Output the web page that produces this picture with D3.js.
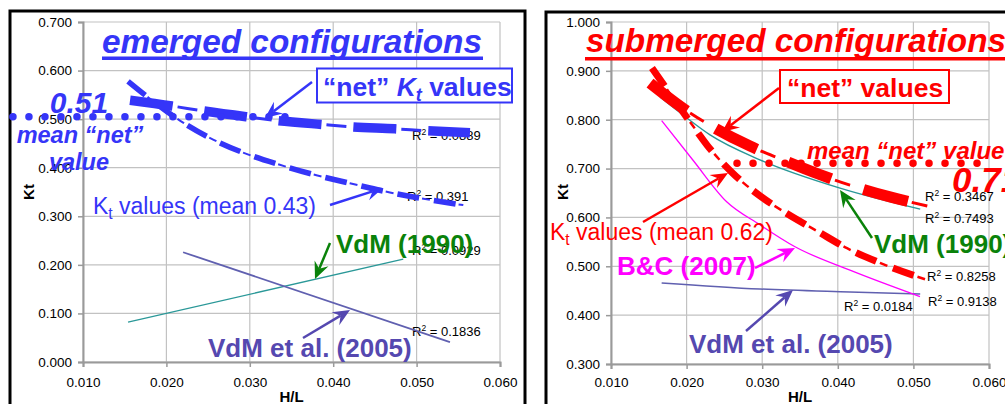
<!DOCTYPE html>
<html><head><meta charset="utf-8">
<script src="https://cdn.jsdelivr.net/npm/d3@7"></script>
<style>
body{margin:0;background:#fff;}
svg{display:block;font-family:"Liberation Sans",Arial,sans-serif;}
</style></head><body>
<svg id="c" width="1005" height="404"></svg>
<script>
// ================= DATA =================
const xTicks = [0.010, 0.020, 0.030, 0.040, 0.050, 0.060];
const yTicksEmerged = [0.000, 0.100, 0.200, 0.300, 0.400, 0.500, 0.600, 0.700];
const yTicksSubmerged = [0.300, 0.400, 0.500, 0.600, 0.700, 0.800, 0.900, 1.000];

// emerged configurations
const emNetX = [0.01564, 0.02067, 0.02439, 0.02954, 0.03338, 0.03866, 0.04225, 0.04741, 0.05125, 0.0564];
const emNetY = [0.539, 0.527, 0.517, 0.505, 0.497, 0.489, 0.484, 0.480, 0.476, 0.472];
const emKtX = [0.0154, 0.0178, 0.0220, 0.0256, 0.0300, 0.0336, 0.0381, 0.0420, 0.0468, 0.0556];
const emKtY = [0.578, 0.545, 0.493, 0.458, 0.426, 0.406, 0.384, 0.368, 0.349, 0.323];
const emVdM1990X = [0.0154, 0.0484];
const emVdM1990Y = [0.082, 0.212];
const emVdM2005X = [0.0220, 0.0540];
const emVdM2005Y = [0.226, 0.041];
const emMeanNet = 0.505;
const emMeanSpanX = [0.0016, 0.0343];
const emR2 = ["0.0889", "0.391", "0.0929", "0.1836"];

// submerged configurations
const subNetX = [0.01516, 0.02005, 0.02349, 0.02839, 0.03235, 0.03738, 0.04161, 0.0469, 0.05193];
const subNetY = [0.875, 0.818, 0.785, 0.746, 0.720, 0.689, 0.666, 0.642, 0.623];
const subKtX = [0.01542, 0.01714, 0.02085, 0.0227, 0.02614, 0.02971, 0.03315, 0.03738, 0.04122, 0.04558, 0.0518];
const subKtY = [0.906, 0.868, 0.787, 0.748, 0.690, 0.644, 0.609, 0.571, 0.537, 0.507, 0.472];
const subVdM1990X = [0.0165, 0.0200, 0.0231, 0.0297, 0.0403, 0.0509];
const subVdM1990Y = [0.846, 0.804, 0.769, 0.718, 0.660, 0.617];
const subBCX = [0.0167, 0.02085, 0.0253, 0.0297, 0.03434, 0.04161, 0.05087];
const subBCY = [0.798, 0.717, 0.632, 0.585, 0.540, 0.492, 0.438];
const subVdM2005X = [0.0167, 0.0297, 0.0416, 0.0509];
const subVdM2005Y = [0.466, 0.4535, 0.4474, 0.4433];
const subMeanNet = 0.711;
const subMeanSpanX = [0.02667, 0.0605];
const subR2 = ["0.3467", "0.7493", "0.8258", "0.9138", "0.0184"];

// ================= DRAW =================
const svg = d3.select("#c");
const BLUE = "#3535f8", RED = "#ff0000", GREEN = "#0a820a", PURPLE = "#5548b0",
      TEAL = "#2a9898", LPURPLE = "#6060b0", MAGENTA = "#ff00ff";
const zip = (xs, ys) => xs.map((x, i) => [x, ys[i]]);

function frame(x, y, w, h) {
  svg.append("rect").attr("x", x).attr("y", y).attr("width", w).attr("height", h)
    .attr("fill", "none").attr("stroke", "#000").attr("stroke-width", 3);
}

function panel(g, xs, ys, yTicks, plotLeft, plotRight, xPad) {
  const [x0, x1] = xs.range(), [yb, yt] = ys.range();
  // grid
  g.selectAll(null).data(xTicks).enter().append("line")
    .attr("x1", d => xs(d)).attr("x2", d => xs(d)).attr("y1", yb).attr("y2", yt)
    .attr("stroke", "#c2c2c2").attr("stroke-width", 1.2);
  g.selectAll(null).data(yTicks).enter().append("line")
    .attr("x1", x0).attr("x2", x1).attr("y1", d => ys(d)).attr("y2", d => ys(d))
    .attr("stroke", "#c2c2c2").attr("stroke-width", 1.2);
  // axes
  const ax = g.append("g").attr("transform", `translate(0,${yb})`)
    .call(d3.axisBottom(xs).tickValues(xTicks).tickFormat(d3.format(".3f")).tickSize(5).tickPadding(xPad));
  const ay = g.append("g").attr("transform", `translate(${x0},0)`)
    .call(d3.axisLeft(ys).tickValues(yTicks).tickFormat(d3.format(".3f")).tickSize(5).tickPadding(6));
  [ax, ay].forEach(a => {
    a.select(".domain").attr("stroke", "#9a9a9a").attr("stroke-width", 2);
    a.selectAll(".tick line").attr("stroke", "#9a9a9a").attr("stroke-width", 1.5);
    a.selectAll("text").attr("font-size", 13.5).attr("fill", "#000")
      .attr("font-family", "Liberation Sans, Arial, sans-serif");
  });
  g.append("text").attr("x", (x0 + x1) / 2).attr("y", 402).attr("text-anchor", "middle")
    .attr("font-weight", "bold").attr("font-size", 15).text("H/L");
}

function trend(g, xs, ys, pts, color, wThick, dashThick, wThin, dashThin) {
  const line = d3.line().x(d => xs(d[0])).y(d => ys(d[1])).curve(d3.curveMonotoneX);
  g.append("path").attr("d", line(pts)).attr("fill", "none").attr("stroke", color)
    .attr("stroke-width", wThin).attr("stroke-dasharray", dashThin);
  g.append("path").attr("d", line(pts)).attr("fill", "none").attr("stroke", color)
    .attr("stroke-width", wThick).attr("stroke-dasharray", dashThick);
}
function thin(g, xs, ys, pts, color, w) {
  const line = d3.line().x(d => xs(d[0])).y(d => ys(d[1])).curve(d3.curveMonotoneX);
  g.append("path").attr("d", line(pts)).attr("fill", "none").attr("stroke", color).attr("stroke-width", w);
}
function dots(g, xs, ys, span, v, color) {
  g.append("path").attr("d", d3.line()([[xs(span[0]), ys(v)], [xs(span[1]), ys(v)]]))
    .attr("stroke", color).attr("stroke-width", 7.5).attr("stroke-linecap", "round")
    .attr("stroke-dasharray", "0 16").attr("fill", "none");
}
function r2(g, x, y, val) {
  const t = g.append("text").attr("x", x).attr("y", y).attr("font-size", 13).attr("fill", "#000");
  t.append("tspan").text("R");
  t.append("tspan").attr("font-size", 8.5).attr("dy", -5).text("2");
  t.append("tspan").attr("dy", 5).text(" = " + val);
}
function txt(x, y, s, o) {
  const t = svg.append("text").attr("x", x).attr("y", y).text(s)
    .attr("font-size", o.size).attr("fill", o.color)
    .attr("font-weight", o.bold ? "bold" : "normal")
    .attr("font-style", o.italic ? "italic" : "normal")
    .attr("text-anchor", o.anchor || "start");
  if (o.len) t.attr("textLength", o.len).attr("lengthAdjust", "spacingAndGlyphs");
  return t;
}
function ktText(x, y, rest, color, size) {
  const t = svg.append("text").attr("x", x).attr("y", y).attr("font-size", size).attr("fill", color);
  t.append("tspan").text("K");
  t.append("tspan").attr("font-size", size * 0.68).attr("dy", 5).text("t");
  t.append("tspan").attr("dy", -5).text(rest);
}
function arrow(x1, y1, x2, y2, color, w) {
  const dx = x2 - x1, dy = y2 - y1, L = Math.hypot(dx, dy), ux = dx / L, uy = dy / L;
  const hl = 17, hw = 7.5, notch = 11, px = -uy, py = ux;
  const bx = x2 - ux * hl, by = y2 - uy * hl, nx = x2 - ux * notch, ny = y2 - uy * notch;
  svg.append("line").attr("x1", x1).attr("y1", y1).attr("x2", nx).attr("y2", ny)
    .attr("stroke", color).attr("stroke-width", w);
  svg.append("polygon").attr("points",
    [[x2, y2], [bx + px * hw, by + py * hw], [nx, ny], [bx - px * hw, by - py * hw]].map(p => p.join(",")).join(" "))
    .attr("fill", color);
}

// ---------- LEFT: emerged ----------
frame(10, 11, 515, 430);
const xL = d3.scaleLinear().domain([0.01, 0.06]).range([83, 500]);
const yL = d3.scaleLinear().domain([0, 0.7]).range([362, 22]);
const gL = svg.append("g");
panel(gL, xL, yL, yTicksEmerged, 83, 500, 10);
svg.append("text").attr("transform", "translate(33.5,192) rotate(-90)").attr("text-anchor", "middle")
  .attr("font-weight", "bold").attr("font-size", 15).text("Kt");
r2(gL, 412, 140, emR2[0]);
r2(gL, 407, 201, emR2[1]);
r2(gL, 412, 255, emR2[2]);
r2(gL, 412, 336, emR2[3]);
thin(gL, xL, yL, zip(emVdM1990X, emVdM1990Y), TEAL, 1.3);
thin(gL, xL, yL, zip(emVdM2005X, emVdM2005Y), LPURPLE, 1.8);
trend(gL, xL, yL, zip(emKtX, emKtY), BLUE, 5.5, "22 15", 2, "0 25 8 4");
trend(gL, xL, yL, zip(emNetX, emNetY), BLUE, 9.5, "43 32", 3, "0 48 20 7");
dots(gL, xL, yL, emMeanSpanX, emMeanNet, BLUE);

txt(102, 53, "emerged configurations", {size: 33, color: BLUE, bold: 1, italic: 1, len: 380});
svg.append("rect").attr("x", 102).attr("y", 56.5).attr("width", 381).attr("height", 3.5).attr("fill", BLUE);
svg.append("rect").attr("x", 317).attr("y", 68.5).attr("width", 195).attr("height", 34)
  .attr("fill", "#fff").attr("stroke", BLUE).attr("stroke-width", 2);
{
  const t = svg.append("text").attr("x", 323).attr("y", 96).attr("font-size", 26.5)
    .attr("fill", BLUE).attr("font-weight", "bold");
  t.append("tspan").text("\u201Cnet\u201D ");
  t.append("tspan").attr("font-style", "italic").text("K");
  t.append("tspan").attr("font-style", "italic").attr("font-size", 18).attr("dy", 5).text("t");
  t.append("tspan").attr("dy", -5).text(" values");
}
arrow(312, 82, 265, 118, BLUE, 2.5);
txt(79, 113, "0.51", {size: 30, color: BLUE, bold: 1, italic: 1, anchor: "middle"});
txt(80, 143, "mean \u201Cnet\u201D", {size: 23.5, color: BLUE, bold: 1, italic: 1, anchor: "middle"});
txt(79, 170, "value", {size: 23.5, color: BLUE, bold: 1, italic: 1, anchor: "middle"});
ktText(93, 214, " values (mean 0.43)", BLUE, 23);
arrow(330, 205, 383, 188, BLUE, 2.5);
txt(336, 253, "VdM (1990)", {size: 26, color: GREEN, bold: 1});
arrow(330, 243, 315, 279, GREEN, 2.5);
txt(208, 357, "VdM et al. (2005)", {size: 26, color: PURPLE, bold: 1});
arrow(303, 338, 350, 310, PURPLE, 2.5);

// ---------- RIGHT: submerged ----------
frame(546, 12, 500, 430);
const xR = d3.scaleLinear().domain([0.01, 0.06]).range([611, 989]);
const yR = d3.scaleLinear().domain([0.3, 1.0]).range([364, 22]);
const gR = svg.append("g");
panel(gR, xR, yR, yTicksSubmerged, 611, 989, 8.5);
svg.append("text").attr("transform", "translate(568,192) rotate(-90)").attr("text-anchor", "middle")
  .attr("font-weight", "bold").attr("font-size", 15).text("Kt");
r2(gR, 925, 201, subR2[0]);
r2(gR, 925, 223, subR2[1]);
r2(gR, 927, 281, subR2[2]);
r2(gR, 928, 306, subR2[3]);
r2(gR, 844, 311, subR2[4]);
thin(gR, xR, yR, zip(subVdM2005X, subVdM2005Y), LPURPLE, 1.5);
thin(gR, xR, yR, zip(subBCX, subBCY), MAGENTA, 1.3);
thin(gR, xR, yR, zip(subVdM1990X, subVdM1990Y), TEAL, 1.4);
trend(gR, xR, yR, zip(subKtX, subKtY), RED, 7, "22 18", 2.5, "0 26 8 6");
trend(gR, xR, yR, zip(subNetX, subNetY), RED, 11, "46 34", 3, "0 50 16 14");
dots(gR, xR, yR, subMeanSpanX, subMeanNet, RED);

txt(586, 52, "submerged configurations", {size: 33, color: RED, bold: 1, italic: 1, len: 420});
svg.append("rect").attr("x", 585).attr("y", 57).attr("width", 430).attr("height", 3.5).attr("fill", RED);
svg.append("rect").attr("x", 780).attr("y", 70).attr("width", 169).attr("height", 33)
  .attr("fill", "#fff").attr("stroke", RED).attr("stroke-width", 2);
txt(787, 96.5, "\u201Cnet\u201D values", {size: 26.5, color: RED, bold: 1});
arrow(779, 88, 722, 132, RED, 2.5);
txt(807, 159, "mean \u201Cnet\u201D value", {size: 24, color: RED, bold: 1, italic: 1});
txt(952, 192, "0.71", {size: 35, color: RED, bold: 1, italic: 1});
ktText(550, 240, " values (mean 0.62)", RED, 23);
arrow(643, 222, 728, 173, RED, 2.5);
txt(617, 275, "B&C (2007)", {size: 26, color: MAGENTA, bold: 1});
arrow(755, 268, 795, 248, MAGENTA, 2.5);
txt(874, 253, "VdM (1990)", {size: 26, color: GREEN, bold: 1});
arrow(872, 238, 840, 190, GREEN, 2.5);
txt(689, 353, "VdM et al. (2005)", {size: 26, color: PURPLE, bold: 1});
arrow(746, 331, 793, 290, PURPLE, 2.5);
</script>
</body></html>
